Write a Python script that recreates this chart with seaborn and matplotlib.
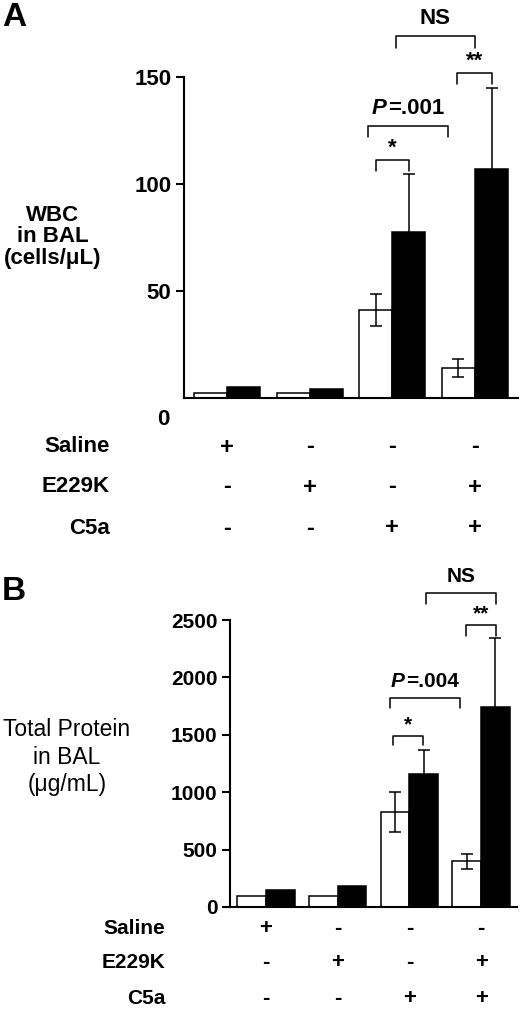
import numpy as np
import pandas as pd
import matplotlib
matplotlib.use("Agg")
import matplotlib.pyplot as plt
import matplotlib.transforms as mtransforms
import seaborn as sns

# Treatment table rows
groups = ["g1", "g2", "g3", "g4"]
series = ["white", "black"]
saline = ["+", "-", "-", "-"]
e229k = ["-", "+", "-", "+"]
c5a = ["-", "-", "+", "+"]

# Panel A: WBC in BAL (cells/uL)
wbc_white = [2.3, 2.3, 41, 14]
wbc_black = [5, 4, 77.5, 107]
wbc_white_err = [0, 0, 7.5, 4]
wbc_black_err = [0, 0, 27, 38]

# Panel B: total protein in BAL (ug/mL)
prot_white = [100, 100, 827, 400]
prot_black = [150, 180, 1160, 1745]
prot_white_err = [0, 0, 175, 65]
prot_black_err = [0, 0, 210, 600]

# significance brackets: x left, x right, top, leg drop, label
wbc_brackets = [(1.8, 2.2, 111, 5, "*"),
                (1.7, 2.67, 127, 5, "P=.001"),
                (2.78, 3.2, 152, 5.5, "**"),
                (2.04, 3.0, 169, 5.5, "NS")]
prot_brackets = [(1.77, 2.19, 1490, 80, "*"),
                 (1.73, 2.71, 1820, 87, "P=.004"),
                 (2.79, 3.21, 2456, 96, "**"),
                 (2.23, 3.21, 2735, 96, "NS")]

sns.set_style("ticks")
plt.rcParams["font.family"] = ["Liberation Sans", "DejaVu Sans"]
for k in ["text.color", "axes.labelcolor", "xtick.color", "ytick.color", "axes.edgecolor"]:
    plt.rcParams[k] = "black"

W, H = 520, 1010
fig = plt.figure(figsize=(W / 100, H / 100), dpi=100)


def px_axes(left, right, bottom, top):
    return fig.add_axes([left / W, 1 - bottom / H, (right - left) / W, (bottom - top) / H])


def draw_panel(ax, white, black, werr, berr, brackets, ylim, yticks, spine_top, fs):
    df = pd.DataFrame({
        "group": groups * 2,
        "series": [series[0]] * 4 + [series[1]] * 4,
        "value": list(white) + list(black),
    })
    sns.barplot(data=df, x="group", y="value", hue="series", order=groups,
                hue_order=series, palette=["white", "black"], edgecolor="black",
                linewidth=1.1, errorbar=None, width=0.8, gap=0, legend=False,
                ax=ax, zorder=2)
    for cont, err in zip(ax.containers, [werr, berr]):
        for bar, e in zip(cont, err):
            if e > 0:
                ax.errorbar(bar.get_x() + bar.get_width() / 2, bar.get_height(), yerr=e,
                            fmt="none", ecolor="black", elinewidth=1.1, capsize=4,
                            capthick=1.1, zorder=3)
    for x1, x2, y, d, lab in brackets:
        ax.plot([x1, x1, x2, x2], [y - d, y, y, y - d], color="black", lw=1.1,
                clip_on=False, zorder=4)
        xc = (x1 + x2) / 2
        if lab.startswith("P"):
            ax.annotate("P", (xc, y), xytext=(-15, 5), textcoords="offset points",
                        ha="right", va="bottom", fontsize=fs, fontweight="bold",
                        fontstyle="italic")
            ax.annotate(lab[1:], (xc, y), xytext=(-14, 5), textcoords="offset points",
                        ha="left", va="bottom", fontsize=fs, fontweight="bold")
        else:
            ax.annotate(lab, (xc, y), xytext=(0, 1 if "*" in lab else 5),
                        textcoords="offset points", ha="center", va="bottom",
                        fontsize=fs if "*" in lab else fs, fontweight="bold")
    ax.set_ylim(*ylim)
    ax.set_yticks(yticks)
    ax.set_xticks([])
    ax.set_xlabel("")
    ax.set_ylabel("")
    sns.despine(ax=ax)
    ax.spines["left"].set_bounds(0, spine_top)
    ax.spines["left"].set_linewidth(1.5)
    ax.spines["bottom"].set_linewidth(1.5)
    ax.tick_params(axis="y", length=6, width=1.5, labelsize=fs, pad=3)
    for t in ax.get_yticklabels():
        t.set_fontweight("bold")
    ax.patch.set_alpha(0)


def draw_table(ax, ys, label_x, fs):
    trans = mtransforms.blended_transform_factory(ax.transData, fig.transFigure)
    for name, row, yp in zip(["Saline", "E229K", "C5a"], [saline, e229k, c5a], ys):
        fig.text(label_x / W, 1 - yp / H, name, ha="right", va="center",
                 fontsize=fs, fontweight="bold")
        for i, s in enumerate(row):
            ax.text(i, 1 - yp / H, s, transform=trans, ha="center", va="center",
                    fontsize=fs + 1, fontweight="bold")


# Panel A
axA = px_axes(184, 518, 398, 12)
draw_panel(axA, wbc_white, wbc_black, wbc_white_err, wbc_black_err, wbc_brackets,
           (0, 398 / 2.2067), [50, 100, 150], 150, 16)
axA.set_xlim(-0.52, 3.52)
fig.text(163 / W, 1 - 420 / H, "0", ha="center", va="center", fontsize=16,
         fontweight="bold")
fig.text(53 / W, 1 - 237 / H, "WBC\nin BAL\n(cells/\u03bcL)", ha="center",
         va="center", fontsize=16, fontweight="bold", linespacing=1.05)
fig.text(2 / W, 1 - 18 / H, "A", ha="left", va="center", fontsize=24, fontweight="bold")
draw_table(axA, [447, 487, 528], 110, 16)

# Panel B
axB = px_axes(230, 517, 907, 568)
draw_panel(axB, prot_white, prot_black, prot_white_err, prot_black_err, prot_brackets,
           (0, (907 - 568) / 0.1148), [0, 500, 1000, 1500, 2000, 2500], 2500, 15)
axB.set_xlim(-0.5, 3.5)
fig.text(67 / W, 1 - 757 / H, "Total Protein\nin BAL\n(\u03bcg/mL)", ha="center",
         va="center", fontsize=16.5, linespacing=1.25)
fig.text(2 / W, 1 - 592 / H, "B", ha="left", va="center", fontsize=24, fontweight="bold")
draw_table(axB, [928, 963, 998], 165, 15)

fig.savefig("out.png", dpi=100)
